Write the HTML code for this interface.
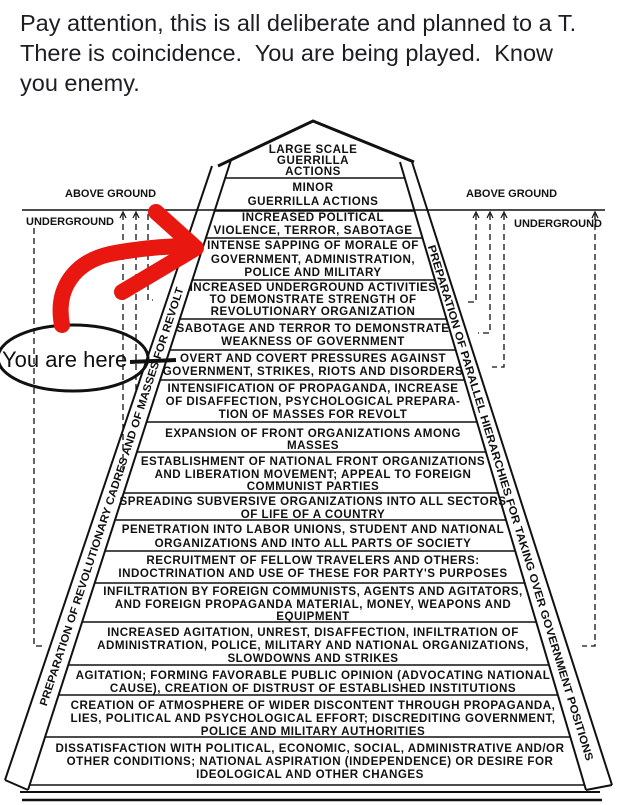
<!DOCTYPE html>
<html><head><meta charset="utf-8"><style>
html,body{margin:0;padding:0;background:#fff;}
body{width:619px;height:805px;overflow:hidden;position:relative;}
.hdr{position:absolute;left:20px;top:8px;font-family:"Liberation Sans",sans-serif;font-size:23.5px;line-height:30px;color:#1c1e21;white-space:nowrap;}
svg{position:absolute;left:0;top:0;}
.t{font-family:"Liberation Sans",sans-serif;font-weight:bold;font-size:11.6px;letter-spacing:0.5px;fill:#111;text-anchor:middle;}
.s{font-family:"Liberation Sans",sans-serif;font-weight:bold;font-size:11px;fill:#111;}
</style></head><body>
<div class="hdr">Pay attention, this is all deliberate and planned to a T.<br>There is coincidence.&nbsp; You are being played.&nbsp; Know<br>you enemy.</div>
<svg width="619" height="805" viewBox="0 0 619 805">
<g stroke="#111" fill="none">
 <path d="M218,166 L313,121 L414,162" stroke-width="3"/>
 <line x1="212" y1="166" x2="5" y2="780" stroke-width="2"/>
 <line x1="231" y1="160" x2="28" y2="790" stroke-width="2"/>
 <line x1="400" y1="162" x2="586" y2="790" stroke-width="2"/>
 <line x1="412" y1="162" x2="612" y2="785" stroke-width="2"/>
 <line x1="5" y1="780" x2="28" y2="790" stroke-width="2"/>
 <line x1="586" y1="790" x2="612" y2="785" stroke-width="2"/>
 <line x1="20" y1="792" x2="600" y2="792" stroke-width="2"/>
 <line x1="22" y1="800" x2="602" y2="800" stroke-width="2.5"/>
 <line x1="22" y1="210" x2="605" y2="210" stroke-width="1.5"/>
 <g stroke-width="1.6">
 <line x1="225" y1="178" x2="405" y2="178"/>
 <line x1="214" y1="211" x2="414" y2="211"/>
 <line x1="206" y1="238" x2="422" y2="238"/>
 <line x1="192" y1="280" x2="435" y2="280"/>
 <line x1="180" y1="319" x2="446" y2="319"/>
 <line x1="170" y1="350" x2="455" y2="350"/>
 <line x1="160" y1="380" x2="464" y2="380"/>
 <line x1="147" y1="422" x2="477" y2="422"/>
 <line x1="137" y1="452" x2="486" y2="452"/>
 <line x1="124" y1="493" x2="498" y2="493"/>
 <line x1="115" y1="520" x2="506" y2="520"/>
 <line x1="105" y1="551" x2="515" y2="551"/>
 <line x1="95" y1="583" x2="524" y2="583"/>
 <line x1="82" y1="622" x2="536" y2="622"/>
 <line x1="68" y1="665" x2="548" y2="665"/>
 <line x1="59" y1="695" x2="557" y2="695"/>
 <line x1="45" y1="737" x2="570" y2="737"/>
 <line x1="30" y1="785" x2="584" y2="785"/>
 </g>
 <g stroke-width="1.3" stroke-dasharray="6,4">
 <path d="M34,228 L34,646 L42,646"/>
 <path d="M123,214 L123,470"/>
 <path d="M136,214 L136,390"/>
 <path d="M148,214 L148,300 L153,300"/>
 <path d="M476,214 L476,302 L468,302"/>
 <path d="M490,214 L490,333 L478,333"/>
 <path d="M504,214 L504,367 L492,367"/>
 <path d="M595,214 L595,646 L582,646"/>
 </g>
 <g stroke-width="1.2">
 <path d="M120,218 L123,212 L126,218"/><path d="M133,218 L136,212 L139,218"/>
 <path d="M473,218 L476,212 L479,218"/><path d="M487,218 L490,212 L493,218"/>
 <path d="M501,218 L504,212 L507,218"/><path d="M592,218 L595,212 L598,218"/>
 </g>
</g>
<text class="s" x="65" y="197" style="font-size:11px">ABOVE GROUND</text>
<text class="s" x="466" y="197" style="font-size:11px">ABOVE GROUND</text>
<text class="s" x="26" y="225" style="font-size:11px">UNDERGROUND</text>
<text class="s" x="514" y="227" style="font-size:11px">UNDERGROUND</text>
<text class="t" x="313" y="153">LARGE SCALE</text>
<text class="t" x="313" y="164">GUERRILLA</text>
<text class="t" x="313" y="175">ACTIONS</text>
<text class="t" x="313" y="191">MINOR</text>
<text class="t" x="313" y="205">GUERRILLA ACTIONS</text>
<text class="t" x="313" y="221">INCREASED POLITICAL</text>
<text class="t" x="313" y="234">VIOLENCE, TERROR, SABOTAGE</text>
<text class="t" x="313" y="249">INTENSE SAPPING OF MORALE OF</text>
<text class="t" x="313" y="263">GOVERNMENT, ADMINISTRATION,</text>
<text class="t" x="313" y="276">POLICE AND MILITARY</text>
<text class="t" x="313" y="291">INCREASED UNDERGROUND ACTIVITIES</text>
<text class="t" x="313" y="303">TO DEMONSTRATE STRENGTH OF</text>
<text class="t" x="313" y="315">REVOLUTIONARY ORGANIZATION</text>
<text class="t" x="313" y="332">SABOTAGE AND TERROR TO DEMONSTRATE</text>
<text class="t" x="313" y="345">WEAKNESS OF GOVERNMENT</text>
<text class="t" x="313" y="362">OVERT AND COVERT PRESSURES AGAINST</text>
<text class="t" x="313" y="375">GOVERNMENT, STRIKES, RIOTS AND DISORDERS</text>
<text class="t" x="313" y="392">INTENSIFICATION OF PROPAGANDA, INCREASE</text>
<text class="t" x="313" y="405">OF DISAFFECTION, PSYCHOLOGICAL PREPARA-</text>
<text class="t" x="313" y="418">TION OF MASSES FOR REVOLT</text>
<text class="t" x="313" y="437">EXPANSION OF FRONT ORGANIZATIONS AMONG</text>
<text class="t" x="313" y="449">MASSES</text>
<text class="t" x="313" y="465">ESTABLISHMENT OF NATIONAL FRONT ORGANIZATIONS</text>
<text class="t" x="313" y="478">AND LIBERATION MOVEMENT; APPEAL TO FOREIGN</text>
<text class="t" x="313" y="490">COMMUNIST PARTIES</text>
<text class="t" x="313" y="505">SPREADING SUBVERSIVE ORGANIZATIONS INTO ALL SECTORS</text>
<text class="t" x="313" y="518">OF LIFE OF A COUNTRY</text>
<text class="t" x="313" y="533">PENETRATION INTO LABOR UNIONS, STUDENT AND NATIONAL</text>
<text class="t" x="313" y="547">ORGANIZATIONS AND INTO ALL PARTS OF SOCIETY</text>
<text class="t" x="313" y="564">RECRUITMENT OF FELLOW TRAVELERS AND OTHERS:</text>
<text class="t" x="313" y="577">INDOCTRINATION AND USE OF THESE FOR PARTY'S PURPOSES</text>
<text class="t" x="313" y="595">INFILTRATION BY FOREIGN COMMUNISTS, AGENTS AND AGITATORS,</text>
<text class="t" x="313" y="608">AND FOREIGN PROPAGANDA MATERIAL, MONEY, WEAPONS AND</text>
<text class="t" x="313" y="620">EQUIPMENT</text>
<text class="t" x="313" y="636">INCREASED AGITATION, UNREST, DISAFFECTION, INFILTRATION OF</text>
<text class="t" x="313" y="649">ADMINISTRATION, POLICE, MILITARY AND NATIONAL ORGANIZATIONS,</text>
<text class="t" x="313" y="662">SLOWDOWNS AND STRIKES</text>
<text class="t" x="313" y="679">AGITATION; FORMING FAVORABLE PUBLIC OPINION (ADVOCATING NATIONAL</text>
<text class="t" x="313" y="692">CAUSE), CREATION OF DISTRUST OF ESTABLISHED INSTITUTIONS</text>
<text class="t" x="313" y="709">CREATION OF ATMOSPHERE OF WIDER DISCONTENT THROUGH PROPAGANDA,</text>
<text class="t" x="313" y="722">LIES, POLITICAL AND PSYCHOLOGICAL EFFORT; DISCREDITING GOVERNMENT,</text>
<text class="t" x="313" y="735">POLICE AND MILITARY AUTHORITIES</text>
<text class="t" x="310" y="752">DISSATISFACTION WITH POLITICAL, ECONOMIC, SOCIAL, ADMINISTRATIVE AND/OR</text>
<text class="t" x="310" y="765">OTHER CONDITIONS; NATIONAL ASPIRATION (INDEPENDENCE) OR DESIRE FOR</text>
<text class="t" x="310" y="778">IDEOLOGICAL AND OTHER CHANGES</text>
<defs>
 <path id="lp" d="M15,790 L220,165"/>
 <path id="rp" d="M406,162 L600,792"/>
</defs>
<text class="s" dy="4"><textPath href="#lp" startOffset="89" textLength="440" lengthAdjust="spacingAndGlyphs">PREPARATION OF REVOLUTIONARY CADRES AND OF MASSES FOR REVOLT</textPath></text>
<text class="s" dy="4"><textPath href="#rp" startOffset="87" textLength="539" lengthAdjust="spacingAndGlyphs">PREPARATION OF PARALLEL HIERARCHIES FOR TAKING OVER GOVERNMENT POSITIONS</textPath></text>
<ellipse cx="73" cy="358" rx="75" ry="33" fill="none" stroke="#111" stroke-width="3"/>
<text x="2" y="367" style="font-family:'Liberation Sans',sans-serif;font-size:22px;fill:#111">You are here</text>
<line x1="130" y1="362" x2="176" y2="360" stroke="#111" stroke-width="4"/>
<g stroke="#e8170f" fill="none" stroke-width="16" stroke-linecap="round" stroke-linejoin="round">
 <path d="M62,325 C55,288 75,262 110,254 C140,248 165,246 192,246"/>
 <path d="M156,212 L196,248 L122,292"/>
</g>
</svg>
</body></html>
